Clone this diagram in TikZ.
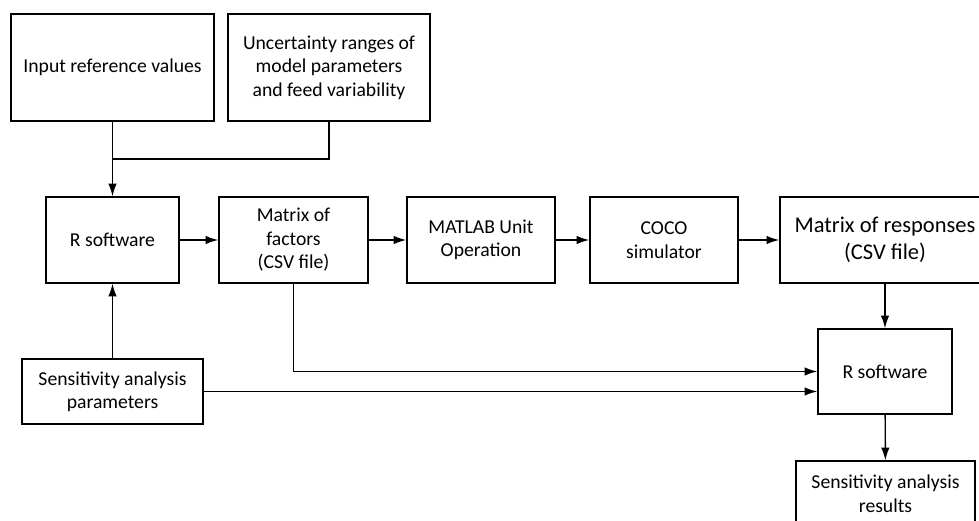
\documentclass[tikz,border=0pt]{standalone}
\usepackage{fontspec}
\setmainfont{Carlito}
\usetikzlibrary{arrows.meta}
\begin{document}
\begin{tikzpicture}[font=\fontsize{14}{16.7}\selectfont,
 bx/.style={draw,line width=1pt,align=center,inner sep=2pt},ar/.style={-{Latex[length=9pt,width=6pt]},line width=1pt}]
\useasboundingbox (0,0) rectangle (24.475,-13.025);
\node[bx,minimum width=5.075cm,minimum height=2.675cm] (inref) at (2.8125,-1.6875) {Input reference values};
\node[bx,minimum width=5.05cm,minimum height=2.675cm] (uncert) at (8.225,-1.6875) {Uncertainty ranges of\\model parameters\\and feed variability};
\node[bx,minimum width=3.325cm,minimum height=2.15cm] (rsoft) at (2.8125,-6) {R software};
\node[bx,minimum width=3.725cm,minimum height=2.15cm] (factors) at (7.3375,-6) {Matrix of\\factors\\(CSV file)};
\node[bx,minimum width=3.7cm,minimum height=2.15cm] (matlab) at (12.025,-6) {MATLAB Unit\\Operation};
\node[bx,minimum width=3.7cm,minimum height=2.15cm] (coco) at (16.6,-6) {COCO\\simulator};
\node[bx,minimum width=5.25cm,minimum height=2.15cm,font=\fontsize{16}{19}\selectfont] (resp) at (22.125,-6) {Matrix of responses\\(CSV file)};
\node[bx,minimum width=4.525cm,minimum height=1.625cm] (sparam) at (2.8125,-9.7875) {Sensitivity analysis\\parameters};
\node[bx,minimum width=3.35cm,minimum height=2.125cm] (rsoft2) at (22.125,-9.2875) {R software};
\node[bx,minimum width=4.475cm,minimum height=1.625cm] (sres) at (22.1375,-12.3375) {Sensitivity analysis\\results};
\coordinate (join) at (2.8125,-3.975);
\draw[line width=1pt] (inref) -- (join);
\draw[line width=1pt] (uncert.south) |- (join);
\draw[ar] (join) -- (rsoft);
\draw[ar] (rsoft) -- (factors);
\draw[ar] (factors) -- (matlab);
\draw[ar] (matlab) -- (coco);
\draw[ar] (coco) -- (resp);
\draw[ar] (sparam) -- (rsoft);
\draw[ar] (resp) -- (rsoft2);
\draw[ar] (factors.south) |- (rsoft2.west);
\draw[ar] (sparam.east) -- (rsoft2.west|-sparam.east);
\draw[ar] (rsoft2) -- (sres);
\end{tikzpicture}
\end{document}
